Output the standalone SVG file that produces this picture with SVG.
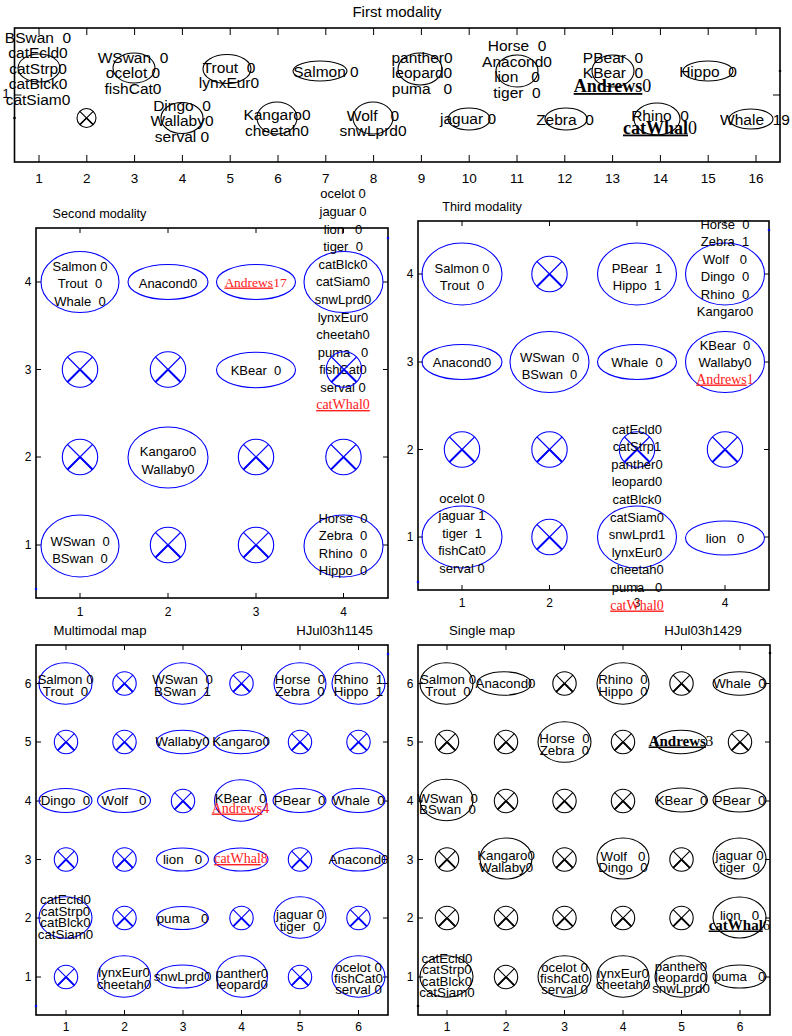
<svg xmlns="http://www.w3.org/2000/svg" width="792" height="1036" viewBox="0 0 792 1036" xml:space="preserve">
<style>
text{font-family:"Liberation Sans",Arial,sans-serif;white-space:pre;fill:#000;text-anchor:middle}
.a{font-size:15.5px}
.b{font-size:13px}
.c{font-size:13.3px}
.ttl{font-size:15px}
.st{font-size:12.7px}
.mt{font-size:13.2px}
.tl{font-size:13.5px}
.tls{font-size:12px}
.rs{font-family:"Liberation Serif","Times New Roman",serif;font-size:14px;fill:#ff2020}
.bs18{font-family:"Liberation Serif","Times New Roman",serif;font-size:18px;font-weight:bold}
.bs15{font-family:"Liberation Serif","Times New Roman",serif;font-size:15px;font-weight:bold}
.rs135{font-family:"Liberation Serif","Times New Roman",serif;font-size:13.5px;fill:#ff2020}
.u{text-decoration:underline}
.eb{fill:none;stroke:#0000ff;stroke-width:1.1}
.ek{fill:none;stroke:#000;stroke-width:1.1}
.bl{fill:none;stroke:#0000ff;stroke-width:1.1}
.bk{fill:none;stroke:#000;stroke-width:1.1}
.frame{fill:none;stroke:#000;stroke-width:1.6}
.tick{fill:none;stroke:#000;stroke-width:1}
.dotb{fill:#0000ff}
.dotk{fill:#000}
</style>
<defs>
<g id="cxS"><circle r="9.5"/><path d="M-6.7-6.7L6.7 6.7M6.7-6.7L-6.7 6.7"/><path d="M0 0L6.7 6.7M0 0L-6.7 6.7" stroke-width="1.6"/></g>
<g id="cxM"><circle r="17.7"/><path d="M-12.5-12.5L12.5 12.5M12.5-12.5L-12.5 12.5"/><path d="M0 0L12.5 12.5M0 0L-12.5 12.5" stroke-width="1.9"/></g>
<g id="cxP"><circle r="11.7"/><path d="M-8.3-8.3L8.3 8.3M8.3-8.3L-8.3 8.3"/><path d="M0 0L8.3 8.3M0 0L-8.3 8.3" stroke-width="1.8"/></g>
</defs>
<rect width="792" height="1036" fill="#fff"/>

<!-- ============ First modality ============ -->
<g id="panel-first">
<text class="ttl" x="397" y="17">First modality</text>
<rect class="frame" x="14.5" y="28" width="765.5" height="134"/>
<path class="tick" d="M39 28v7M86.8 28v7M134.6 28v7M182.4 28v7M230.2 28v7M278 28v7M325.8 28v7M373.6 28v7M421.4 28v7M469.2 28v7M517 28v7M564.8 28v7M612.6 28v7M660.4 28v7M708.2 28v7M756 28v7M39 162v-7M86.8 162v-7M134.6 162v-7M182.4 162v-7M230.2 162v-7M278 162v-7M325.8 162v-7M373.6 162v-7M421.4 162v-7M469.2 162v-7M517 162v-7M564.8 162v-7M612.6 162v-7M660.4 162v-7M708.2 162v-7M756 162v-7M780 95h-7M14.5 95h7"/>
<g class="tl">
<text class="tl" x="39" y="183">1</text><text class="tl" x="86.8" y="183">2</text><text class="tl" x="134.6" y="183">3</text><text class="tl" x="182.4" y="183">4</text><text class="tl" x="230.2" y="183">5</text><text class="tl" x="278" y="183">6</text><text class="tl" x="325.8" y="183">7</text><text class="tl" x="373.6" y="183">8</text><text class="tl" x="421.4" y="183">9</text><text class="tl" x="469.2" y="183">10</text><text class="tl" x="517" y="183">11</text><text class="tl" x="564.8" y="183">12</text><text class="tl" x="612.6" y="183">13</text><text class="tl" x="660.4" y="183">14</text><text class="tl" x="708.2" y="183">15</text><text class="tl" x="756" y="183">16</text>
<text class="tl" x="6" y="98">1</text>
</g>
<circle class="dotk" cx="780" cy="71" r="1.3"/>
<circle class="dotk" cx="14.5" cy="118" r="1.3"/>
<g id="f1"><ellipse class="ek" cx="39" cy="68" rx="21" ry="14"/>
<text class="a" x="38" y="42.5">BSwan  0</text><text class="a" x="38" y="58">catEcld0</text><text class="a" x="38" y="73.5">catStrp0</text><text class="a" x="38" y="89">catBlck0</text><text class="a" x="38" y="104.5">catSiam0</text></g>
<g id="f2"><use href="#cxS" x="86.5" y="118" class="bk"/></g>
<g id="f3"><ellipse class="ek" cx="134" cy="68" rx="21" ry="15"/>
<text class="a" x="133" y="62.5">WSwan  0</text><text class="a" x="133" y="78">ocelot 0</text><text class="a" x="133" y="93.5">fishCat0</text></g>
<g id="f4"><ellipse class="ek" cx="182" cy="118" rx="21" ry="15.5"/>
<text class="a" x="182" y="110.5">Dingo  0</text><text class="a" x="182" y="126">Wallaby0</text><text class="a" x="182" y="141.5">serval 0</text></g>
<g id="f5"><ellipse class="ek" cx="227" cy="69" rx="24" ry="14.5"/>
<text class="a" x="229" y="72.5">Trout  0</text><text class="a" x="229" y="88">lynxEur0</text></g>
<g id="f6"><ellipse class="ek" cx="277" cy="118" rx="20" ry="16"/>
<text class="a" x="277" y="120">Kangaro0</text><text class="a" x="277" y="135.5">cheetah0</text></g>
<g id="f7"><ellipse class="ek" cx="320" cy="71" rx="27" ry="10"/>
<text class="a" x="326" y="76.5">Salmon 0</text></g>
<g id="f8"><ellipse class="ek" cx="373" cy="118" rx="20" ry="16"/>
<text class="a" x="373" y="120.5">Wolf   0</text><text class="a" x="373" y="135.5">snwLprd0</text></g>
<g id="f9"><ellipse class="ek" cx="420" cy="69" rx="22" ry="16"/>
<text class="a" x="422" y="62.5">panther0</text><text class="a" x="422" y="78">leopard0</text><text class="a" x="422" y="93.5">puma   0</text></g>
<g id="f10"><ellipse class="ek" cx="469" cy="119" rx="21" ry="11"/>
<text class="a" x="468" y="123.5">jaguar 0</text></g>
<g id="f11"><ellipse class="ek" cx="517" cy="71" rx="21" ry="16"/>
<text class="a" x="517" y="51">Horse  0</text><text class="a" x="517" y="66.5">Anacond0</text><text class="a" x="517" y="82">lion   0</text><text class="a" x="517" y="97.5">tiger  0</text></g>
<g id="f12"><ellipse class="ek" cx="566" cy="119" rx="21" ry="11"/>
<text class="a" x="565" y="124.5">Zebra  0</text></g>
<g id="f13"><ellipse class="ek" cx="613" cy="71" rx="21" ry="16"/>
<text class="a" x="613" y="62.5">PBear  0</text><text class="a" x="613" y="78">KBear  0</text>
<text class="bs18" x="612.5" y="92"><tspan class="u">Andrews</tspan><tspan font-weight="normal">0</tspan></text></g>
<g id="f14"><ellipse class="ek" cx="657" cy="119" rx="23" ry="16"/>
<text class="a" x="660" y="120.5">Rhino  0</text>
<text class="bs18" x="660" y="133.5"><tspan class="u">catWhal</tspan><tspan font-weight="normal">0</tspan></text></g>
<g id="f15"><ellipse class="ek" cx="708" cy="71" rx="25" ry="10"/>
<text class="a" x="708" y="76.5">Hippo  0</text></g>
<g id="f16"><ellipse class="ek" cx="751" cy="119" rx="22" ry="10"/>
<text class="a" x="755" y="124.5">Whale  19</text></g>
</g>

<!-- ============ Second modality ============ -->
<g id="panel-second">
<text class="st" x="99.5" y="217.5">Second modality</text>
<rect class="frame" x="36" y="228" width="352" height="370"/>
<path class="tick" d="M80 228v5M168 228v5M256 228v5M343.5 228v5M80 598v-5M168 598v-5M256 598v-5M343.5 598v-5M36 282h5M36 369.5h5M36 457h5M36 545h5M388 282h-5M388 369.5h-5M388 457h-5M388 545h-5"/>
<text class="tls" x="80" y="616">1</text><text class="tls" x="168" y="616">2</text><text class="tls" x="256" y="616">3</text><text class="tls" x="343.5" y="616">4</text>
<text class="tls" x="28" y="286">4</text><text class="tls" x="28" y="373.5">3</text><text class="tls" x="28" y="461">2</text><text class="tls" x="28" y="549">1</text>
<circle class="dotb" cx="388" cy="238" r="1.3"/>
<circle class="dotb" cx="36" cy="589" r="1.3"/>
<g id="s41"><ellipse class="eb" cx="80" cy="282" rx="39" ry="30.5"/>
<text class="b" x="80" y="270.5">Salmon 0</text><text class="b" x="80" y="288">Trout  0</text><text class="b" x="80" y="305.5">Whale  0</text></g>
<g id="s42"><ellipse class="eb" cx="168" cy="282" rx="40" ry="17.5"/>
<text class="b" x="168" y="287.5">Anacond0</text></g>
<g id="s43"><ellipse class="eb" cx="256" cy="282" rx="39.5" ry="17.5"/>
<text class="rs135" x="255.5" y="286.5"><tspan class="u">Andrews</tspan>17</text></g>
<g id="s44"><ellipse class="eb" cx="343.5" cy="282" rx="39.5" ry="30.5"/>
<text class="b" x="343" y="198.3">ocelot 0</text>
<text class="b" x="343" y="215.9">jaguar 0</text>
<text class="b" x="343" y="233.5">lion   0</text>
<text class="b" x="343" y="251.1">tiger  0</text>
<text class="b" x="343" y="268.7">catBlck0</text>
<text class="b" x="343" y="286.3">catSiam0</text>
<text class="b" x="343" y="303.9">snwLprd0</text>
<text class="b" x="343" y="321.5">lynxEur0</text>
<text class="b" x="343" y="339.1">cheetah0</text>
<text class="b" x="343" y="356.7">puma   0</text>
<text class="b" x="343" y="374.3">fishCat0</text>
<text class="b" x="343" y="391.9">serval 0</text>
<text class="rs" x="343" y="409"><tspan class="u">catWhal0</tspan></text></g>
<g id="s31"><use href="#cxM" x="80" y="369.5" class="bl"/></g>
<g id="s32"><use href="#cxM" x="168" y="369.5" class="bl"/></g>
<g id="s33"><ellipse class="eb" cx="256" cy="370" rx="39.5" ry="17.7"/>
<text class="b" x="256" y="374.5">KBear  0</text></g>
<g id="s34"><use href="#cxM" x="344" y="369.5" class="bl"/></g>
<g id="s21"><use href="#cxM" x="80" y="457" class="bl"/></g>
<g id="s22"><ellipse class="eb" cx="168" cy="457.5" rx="40" ry="30.5"/>
<text class="b" x="168" y="456">Kangaro0</text><text class="b" x="168" y="473.5">Wallaby0</text></g>
<g id="s23"><use href="#cxM" x="256" y="457" class="bl"/></g>
<g id="s24"><use href="#cxM" x="343.5" y="457" class="bl"/></g>
<g id="s11"><ellipse class="eb" cx="80" cy="546" rx="39" ry="31"/>
<text class="b" x="80" y="545.5">WSwan  0</text><text class="b" x="80" y="562.5">BSwan  0</text></g>
<g id="s12"><use href="#cxM" x="168" y="545" class="bl"/></g>
<g id="s13"><use href="#cxM" x="256" y="545" class="bl"/></g>
<g id="s14"><ellipse class="eb" cx="343.5" cy="546" rx="39.5" ry="31"/>
<text class="b" x="343" y="522.5">Horse  0</text><text class="b" x="343" y="540">Zebra  0</text><text class="b" x="343" y="557.5">Rhino  0</text><text class="b" x="343" y="574.5">Hippo  0</text></g>
</g>

<!-- ============ Third modality ============ -->
<g id="panel-third">
<text class="st" x="482" y="210.5">Third modality</text>
<rect class="frame" x="418" y="221" width="351" height="369"/>
<path class="tick" d="M462 221v5M549.5 221v5M637 221v5M725 221v5M462 590v-5M549.5 590v-5M637 590v-5M725 590v-5M418 274h5M418 362h5M418 449.5h5M418 537h5M769 274h-5M769 362h-5M769 449.5h-5M769 537h-5"/>
<text class="tls" x="462" y="607">1</text><text class="tls" x="549.5" y="607">2</text><text class="tls" x="637" y="607">3</text><text class="tls" x="725" y="607">4</text>
<text class="tls" x="410" y="278">4</text><text class="tls" x="410" y="366">3</text><text class="tls" x="410" y="453.5">2</text><text class="tls" x="410" y="541">1</text>
<circle class="dotb" cx="769" cy="230" r="1.3"/>
<circle class="dotb" cx="418" cy="582" r="1.3"/>
<g id="t41"><ellipse class="eb" cx="462" cy="274" rx="40" ry="31"/>
<text class="b" x="462" y="272.5">Salmon 0</text><text class="b" x="462" y="290">Trout  0</text></g>
<g id="t42"><use href="#cxM" x="549.5" y="274" class="bl"/></g>
<g id="t43"><ellipse class="eb" cx="637" cy="274" rx="39.5" ry="31"/>
<text class="b" x="637" y="272.5">PBear  1</text><text class="b" x="637" y="290">Hippo  1</text></g>
<g id="t44"><ellipse class="eb" cx="725" cy="274" rx="39.5" ry="31"/>
<text class="b" x="725" y="228.5">Horse  0</text><text class="b" x="725" y="246">Zebra  1</text><text class="b" x="725" y="263.5">Wolf   0</text><text class="b" x="725" y="281">Dingo  0</text><text class="b" x="725" y="298.5">Rhino  0</text><text class="b" x="725" y="316">Kangaro0</text></g>
<g id="t31"><ellipse class="eb" cx="462" cy="362" rx="40" ry="17.5"/>
<text class="b" x="462" y="366.5">Anacond0</text></g>
<g id="t32"><ellipse class="eb" cx="549.5" cy="362" rx="39.5" ry="30.5"/>
<text class="b" x="549.5" y="361.5">WSwan  0</text><text class="b" x="549.5" y="378.5">BSwan  0</text></g>
<g id="t33"><ellipse class="eb" cx="637" cy="362" rx="39.5" ry="17.5"/>
<text class="b" x="637" y="366.5">Whale  0</text></g>
<g id="t34"><ellipse class="eb" cx="725" cy="362" rx="39.5" ry="30.5"/>
<text class="b" x="725" y="349.5">KBear  0</text><text class="b" x="725" y="366.5">Wallaby0</text>
<text class="rs" x="725" y="383.5"><tspan class="u">Andrews</tspan>1</text></g>
<g id="t21"><use href="#cxM" x="462" y="449.5" class="bl"/></g>
<g id="t22"><use href="#cxM" x="549.5" y="449.5" class="bl"/></g>
<g id="t23"><use href="#cxM" x="637" y="449.5" class="bl"/></g>
<g id="t24"><use href="#cxM" x="725" y="449.5" class="bl"/></g>
<g id="t11"><ellipse class="eb" cx="462" cy="537" rx="40" ry="31"/>
<text class="b" x="462" y="502.5">ocelot 0</text><text class="b" x="462" y="520">jaguar 1</text><text class="b" x="462" y="537.5">tiger  1</text><text class="b" x="462" y="555">fishCat0</text><text class="b" x="462" y="572.5">serval 0</text></g>
<g id="t12"><use href="#cxM" x="549.5" y="537" class="bl"/></g>
<g id="t13"><ellipse class="eb" cx="637" cy="537" rx="39.5" ry="31"/>
<text class="b" x="637" y="433.5">catEcld0</text>
<text class="b" x="637" y="451.1">catStrp1</text>
<text class="b" x="637" y="468.7">panther0</text>
<text class="b" x="637" y="486.3">leopard0</text>
<text class="b" x="637" y="503.9">catBlck0</text>
<text class="b" x="637" y="521.5">catSiam0</text>
<text class="b" x="637" y="539.1">snwLprd1</text>
<text class="b" x="637" y="556.7">lynxEur0</text>
<text class="b" x="637" y="574.3">cheetah0</text>
<text class="b" x="637" y="591.9">puma   0</text>
<text class="rs" x="637" y="609.5"><tspan class="u">catWhal0</tspan></text></g>
<g id="t14"><ellipse class="eb" cx="725" cy="538" rx="39.5" ry="17"/>
<text class="b" x="725" y="542.5">lion   0</text></g>
</g>

<!-- ============ Multimodal map ============ -->
<g id="panel-multimodal">
<text class="mt" x="100" y="634.5">Multimodal map</text>
<text class="mt" x="334.5" y="634.5">HJul03h1145</text>
<rect class="frame" x="36" y="645" width="352" height="370"/>
<path class="tick" d="M66 645v5M124.5 645v5M183 645v5M241.5 645v5M300 645v5M358.5 645v5M66 1015v-5M124.5 1015v-5M183 1015v-5M241.5 1015v-5M300 1015v-5M358.5 1015v-5M36 683.5h5M36 742h5M36 801h5M36 859.5h5M36 918h5M36 977h5M388 683.5h-5M388 742h-5M388 801h-5M388 859.5h-5M388 918h-5M388 977h-5"/>
<text class="tls" x="66" y="1031">1</text><text class="tls" x="124.5" y="1031">2</text><text class="tls" x="183" y="1031">3</text><text class="tls" x="241.5" y="1031">4</text><text class="tls" x="300" y="1031">5</text><text class="tls" x="358.5" y="1031">6</text>
<text class="tls" x="28" y="687.5">6</text><text class="tls" x="28" y="746">5</text><text class="tls" x="28" y="805">4</text><text class="tls" x="28" y="863.5">3</text><text class="tls" x="28" y="922">2</text><text class="tls" x="28" y="981">1</text>
<circle class="dotb" cx="388" cy="654" r="1.3"/>
<circle class="dotb" cx="36" cy="1006" r="1.3"/>
<g id="m61"><ellipse class="eb" cx="65.5" cy="683.5" rx="26.5" ry="20.7"/>
<text class="c" x="65.5" y="683.5">Salmon 0</text><text class="c" x="65.5" y="696">Trout  0</text></g>
<g id="m62"><use href="#cxP" x="124.5" y="683.5" class="bl"/></g>
<g id="m63"><ellipse class="eb" cx="182.5" cy="683.5" rx="26" ry="20.7"/>
<text class="c" x="182.5" y="683.5">WSwan  0</text><text class="c" x="182.5" y="696">BSwan  1</text></g>
<g id="m64"><use href="#cxP" x="241.5" y="683.5" class="bl"/></g>
<g id="m65"><ellipse class="eb" cx="300" cy="683.5" rx="26" ry="20.7"/>
<text class="c" x="300" y="683.5">Horse  0</text><text class="c" x="300" y="696">Zebra  0</text></g>
<g id="m66"><ellipse class="eb" cx="358.5" cy="683.5" rx="26.5" ry="20.7"/>
<text class="c" x="358.5" y="683.5">Rhino  1</text><text class="c" x="358.5" y="696">Hippo  1</text></g>
<g id="m51"><use href="#cxP" x="66" y="742" class="bl"/></g>
<g id="m52"><use href="#cxP" x="124.5" y="742" class="bl"/></g>
<g id="m53"><ellipse class="eb" cx="182.5" cy="742" rx="26" ry="11.7"/>
<text class="c" x="182.5" y="746">Wallaby0</text></g>
<g id="m54"><ellipse class="eb" cx="241" cy="742" rx="27" ry="11.7"/>
<text class="c" x="241" y="746">Kangaro0</text></g>
<g id="m55"><use href="#cxP" x="300" y="742" class="bl"/></g>
<g id="m56"><use href="#cxP" x="358.5" y="742" class="bl"/></g>
<g id="m41"><ellipse class="eb" cx="65.5" cy="800.5" rx="26.5" ry="12"/>
<text class="c" x="65.5" y="805">Dingo  0</text></g>
<g id="m42"><ellipse class="eb" cx="124" cy="800.5" rx="26.5" ry="12"/>
<text class="c" x="124" y="805">Wolf   0</text></g>
<g id="m43"><use href="#cxP" x="183" y="801" class="bl"/></g>
<g id="m44"><ellipse class="eb" cx="240.5" cy="800.5" rx="26" ry="20.7"/>
<text class="c" x="240.5" y="802.5">KBear  0</text>
<text class="rs" x="240.5" y="812.5"><tspan class="u">Andrews</tspan>4</text></g>
<g id="m45"><ellipse class="eb" cx="299.5" cy="800.5" rx="26.5" ry="12"/>
<text class="c" x="299.5" y="805">PBear  0</text></g>
<g id="m46"><ellipse class="eb" cx="358.5" cy="800.5" rx="26.5" ry="12"/>
<text class="c" x="358.5" y="805">Whale  0</text></g>
<g id="m31"><use href="#cxP" x="66" y="859.5" class="bl"/></g>
<g id="m32"><use href="#cxP" x="124.5" y="859.5" class="bl"/></g>
<g id="m33"><ellipse class="eb" cx="182.5" cy="859.5" rx="26" ry="11.5"/>
<text class="c" x="182.5" y="864">lion   0</text></g>
<g id="m34"><ellipse class="eb" cx="241" cy="859.5" rx="27" ry="11.5"/>
<text class="rs" x="241" y="863"><tspan class="u">catWhal</tspan>8</text></g>
<g id="m35"><use href="#cxP" x="300" y="859.5" class="bl"/></g>
<g id="m36"><ellipse class="eb" cx="358.5" cy="859.5" rx="26.5" ry="11.5"/>
<text class="c" x="358.5" y="864">Anacond0</text></g>
<g id="m21"><ellipse class="eb" cx="65.5" cy="917.5" rx="26.5" ry="20.7"/>
<text class="c" x="65.5" y="904">catEcld0</text><text class="c" x="65.5" y="915.6">catStrp0</text><text class="c" x="65.5" y="927.2">catBlck0</text><text class="c" x="65.5" y="938.8">catSiam0</text></g>
<g id="m22"><use href="#cxP" x="124.5" y="918" class="bl"/></g>
<g id="m23"><ellipse class="eb" cx="182.5" cy="918" rx="26" ry="11.5"/>
<text class="c" x="182.5" y="922.5">puma   0</text></g>
<g id="m24"><use href="#cxP" x="241.5" y="918" class="bl"/></g>
<g id="m25"><ellipse class="eb" cx="300" cy="917.5" rx="26" ry="20.7"/>
<text class="c" x="300" y="918.5">jaguar 0</text><text class="c" x="300" y="930.5">tiger  0</text></g>
<g id="m26"><use href="#cxP" x="358.5" y="918" class="bl"/></g>
<g id="m11"><use href="#cxP" x="66" y="977" class="bl"/></g>
<g id="m12"><ellipse class="eb" cx="124" cy="976.5" rx="26.5" ry="20.7"/>
<text class="c" x="124" y="976.5">lynxEur0</text><text class="c" x="124" y="988.5">cheetah0</text></g>
<g id="m13"><ellipse class="eb" cx="182.5" cy="976.5" rx="26" ry="11.5"/>
<text class="c" x="182.5" y="981">snwLprd0</text></g>
<g id="m14"><ellipse class="eb" cx="242" cy="976.5" rx="25.5" ry="20.7"/>
<text class="c" x="242" y="977.5">panther0</text><text class="c" x="242" y="989">leopard0</text></g>
<g id="m15"><use href="#cxP" x="300" y="977" class="bl"/></g>
<g id="m16"><ellipse class="eb" cx="358.5" cy="976.5" rx="26.5" ry="20.7"/>
<text class="c" x="358.5" y="971.5">ocelot 0</text><text class="c" x="358.5" y="982.5">fishCat0</text><text class="c" x="358.5" y="993.5">serval 0</text></g>
</g>

<!-- ============ Single map ============ -->
<g id="panel-single">
<text class="mt" x="482" y="634.5">Single map</text>
<text class="mt" x="703" y="634.5">HJul03h1429</text>
<rect class="frame" x="418" y="645" width="352" height="370"/>
<path class="tick" d="M447 645v5M506 645v5M564.5 645v5M623 645v5M681.5 645v5M740 645v5M447 1015v-5M506 1015v-5M564.5 1015v-5M623 1015v-5M681.5 1015v-5M740 1015v-5M418 683.5h5M418 742h5M418 801h5M418 859.5h5M418 918h5M418 977h5M770 683.5h-5M770 742h-5M770 801h-5M770 859.5h-5M770 918h-5M770 977h-5"/>
<text class="tls" x="447" y="1031">1</text><text class="tls" x="506" y="1031">2</text><text class="tls" x="564.5" y="1031">3</text><text class="tls" x="623" y="1031">4</text><text class="tls" x="681.5" y="1031">5</text><text class="tls" x="740" y="1031">6</text>
<text class="tls" x="410" y="687.5">6</text><text class="tls" x="410" y="746">5</text><text class="tls" x="410" y="805">4</text><text class="tls" x="410" y="863.5">3</text><text class="tls" x="410" y="922">2</text><text class="tls" x="410" y="981">1</text>
<circle class="dotk" cx="770" cy="653" r="1.3"/>
<circle class="dotk" cx="418" cy="1006" r="1.3"/>
<g id="k61"><ellipse class="ek" cx="446.5" cy="683.5" rx="26.5" ry="20.7"/>
<text class="c" x="448" y="683.5">Salmon 0</text><text class="c" x="448" y="696">Trout  0</text></g>
<g id="k62"><ellipse class="ek" cx="504" cy="683.5" rx="27" ry="11.7"/>
<text class="c" x="505.5" y="688">Anacond0</text></g>
<g id="k63"><use href="#cxP" x="564.5" y="683.5" class="bk"/></g>
<g id="k64"><ellipse class="ek" cx="623" cy="683.5" rx="26" ry="20.7"/>
<text class="c" x="623" y="683.5">Rhino  0</text><text class="c" x="623" y="696">Hippo  0</text></g>
<g id="k65"><use href="#cxP" x="681.5" y="683.5" class="bk"/></g>
<g id="k66"><ellipse class="ek" cx="739.5" cy="683.5" rx="26.5" ry="11.7"/>
<text class="c" x="739.5" y="688">Whale  0</text></g>
<g id="k51"><use href="#cxP" x="447" y="742" class="bk"/></g>
<g id="k52"><use href="#cxP" x="506" y="742" class="bk"/></g>
<g id="k53"><ellipse class="ek" cx="564.5" cy="742" rx="26.5" ry="20.3"/>
<text class="c" x="564.5" y="742.5">Horse  0</text><text class="c" x="564.5" y="754.5">Zebra  0</text></g>
<g id="k54"><use href="#cxP" x="623" y="742" class="bk"/></g>
<g id="k55"><ellipse class="ek" cx="681" cy="742" rx="26" ry="11.7"/>
<text class="bs15" x="681" y="745.5"><tspan class="u">Andrews</tspan><tspan font-weight="normal">3</tspan></text></g>
<g id="k56"><use href="#cxP" x="740" y="742" class="bk"/></g>
<g id="k41"><ellipse class="ek" cx="446.5" cy="800" rx="26.5" ry="20.7"/>
<text class="c" x="447.5" y="802.5">WSwan  0</text><text class="c" x="447.5" y="814">BSwan  0</text></g>
<g id="k42"><use href="#cxP" x="506" y="801" class="bk"/></g>
<g id="k43"><use href="#cxP" x="564.5" y="801" class="bk"/></g>
<g id="k44"><use href="#cxP" x="623" y="801" class="bk"/></g>
<g id="k45"><ellipse class="ek" cx="681.5" cy="800" rx="26" ry="12"/>
<text class="c" x="681.5" y="805">KBear  0</text></g>
<g id="k46"><ellipse class="ek" cx="739.5" cy="800" rx="26.5" ry="12"/>
<text class="c" x="739.5" y="805">PBear  0</text></g>
<g id="k31"><use href="#cxP" x="447" y="859.5" class="bk"/></g>
<g id="k32"><ellipse class="ek" cx="506" cy="858.5" rx="26" ry="20.5"/>
<text class="c" x="506" y="860">Kangaro0</text><text class="c" x="506" y="872">Wallaby0</text></g>
<g id="k33"><use href="#cxP" x="564.5" y="859.5" class="bk"/></g>
<g id="k34"><ellipse class="ek" cx="623" cy="858.5" rx="26" ry="20.5"/>
<text class="c" x="623" y="860.5">Wolf   0</text><text class="c" x="623" y="872">Dingo  0</text></g>
<g id="k35"><use href="#cxP" x="681.5" y="859.5" class="bk"/></g>
<g id="k36"><ellipse class="ek" cx="739.5" cy="858.5" rx="26.5" ry="20.5"/>
<text class="c" x="739.5" y="860">jaguar 0</text><text class="c" x="739.5" y="872">tiger  0</text></g>
<g id="k21"><use href="#cxP" x="447" y="918" class="bk"/></g>
<g id="k22"><use href="#cxP" x="506" y="918" class="bk"/></g>
<g id="k23"><use href="#cxP" x="564.5" y="918" class="bk"/></g>
<g id="k24"><use href="#cxP" x="623" y="918" class="bk"/></g>
<g id="k25"><use href="#cxP" x="681.5" y="918" class="bk"/></g>
<g id="k26"><ellipse class="ek" cx="739.5" cy="917.5" rx="26.5" ry="20.5"/>
<text class="c" x="739.5" y="919.5">lion   0</text>
<text class="bs15" x="739.5" y="929.5"><tspan class="u">catWhal</tspan><tspan font-weight="normal">6</tspan></text></g>
<g id="k11"><ellipse class="ek" cx="446.5" cy="976.5" rx="26.5" ry="20.7"/>
<text class="c" x="447" y="962.5">catEcld0</text><text class="c" x="447" y="974">catStrp0</text><text class="c" x="447" y="985.5">catBlck0</text><text class="c" x="447" y="997">catSiam0</text></g>
<g id="k12"><use href="#cxP" x="506" y="977" class="bk"/></g>
<g id="k13"><ellipse class="ek" cx="564.5" cy="976.5" rx="26.5" ry="20.7"/>
<text class="c" x="564.5" y="971.5">ocelot 0</text><text class="c" x="564.5" y="982.5">fishCat0</text><text class="c" x="564.5" y="993.5">serval 0</text></g>
<g id="k14"><ellipse class="ek" cx="623" cy="976.5" rx="26" ry="20.7"/>
<text class="c" x="623" y="977.5">lynxEur0</text><text class="c" x="623" y="988.5">cheetah0</text></g>
<g id="k15"><ellipse class="ek" cx="681" cy="976.5" rx="26" ry="20.7"/>
<text class="c" x="681" y="971">panther0</text><text class="c" x="681" y="982">leopard0</text><text class="c" x="681" y="993">snwLprd0</text></g>
<g id="k16"><ellipse class="ek" cx="739.5" cy="976.5" rx="26.5" ry="11.5"/>
<text class="c" x="739.5" y="981">puma   0</text></g>
</g>
</svg>
